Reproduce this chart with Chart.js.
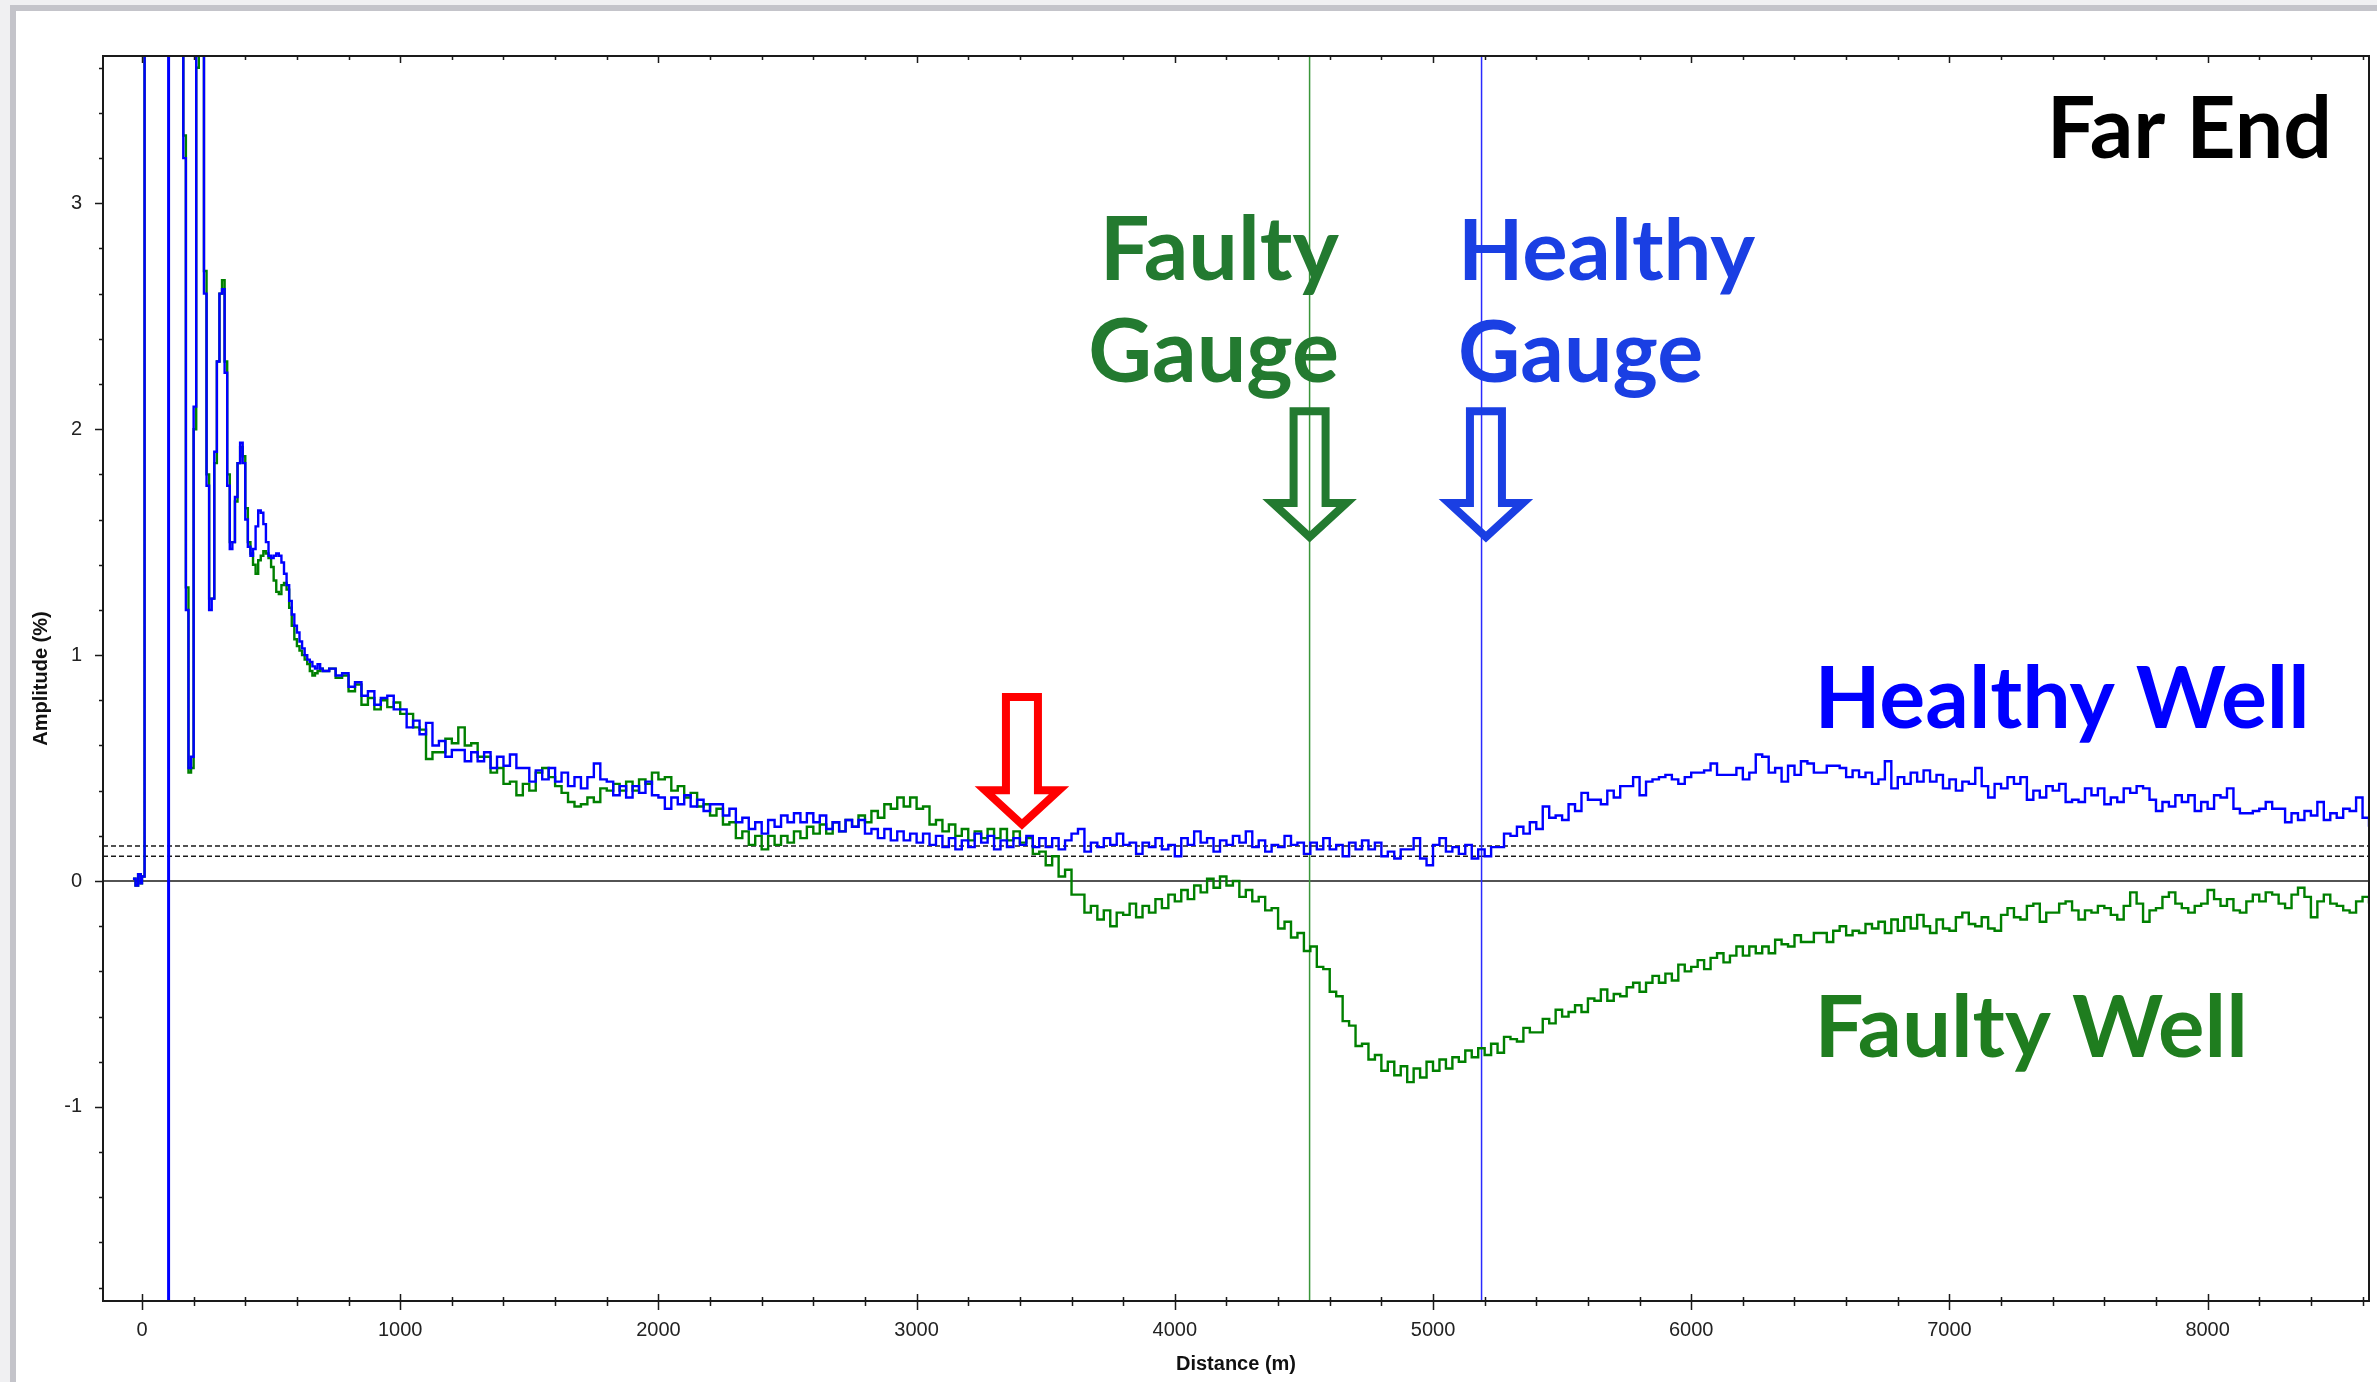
<!DOCTYPE html>
<html>
<head>
<meta charset="utf-8">
<script src="https://cdn.jsdelivr.net/npm/chart.js@4.4.1/dist/chart.umd.min.js"></script>
<style>
  html, body { margin: 0; padding: 0; background: #f0f0f2; overflow: hidden; }
  #panel { position: absolute; left: 10px; top: 5px; right: 0; bottom: 0; background: #fff;
           border-left: 6px solid #c4c4ca; border-top: 6px solid #c4c4ca; }
  #chart { position: absolute; left: 0; top: 0; }
</style>
</head>
<body>
<div id="panel"></div>
<canvas id="chart" width="2377" height="1382"></canvas>
<script>
// distance along the well (m)
const distance = [
  -35, -25, -15, -5, 0, 10, 20, 30, 40, 50, 60, 70, 80, 90, 100, 110, 120, 130, 140, 150,
  160, 170, 180, 190, 200, 210, 220, 230, 240, 250, 260, 270, 280, 290, 300, 310, 320, 330, 340, 350,
  360, 370, 380, 390, 400, 410, 420, 430, 440, 450, 460, 470, 480, 490, 500, 510, 520, 530, 540, 550,
  560, 570, 580, 590, 600, 610, 620, 630, 640, 650, 660, 670, 680, 690, 700,
  725, 750, 775, 800, 825, 850, 875, 900, 925, 950, 975, 1000, 1025, 1050, 1075, 1100, 1125, 1150, 1175, 1200,
  1225, 1250, 1275, 1300, 1325, 1350, 1375, 1400, 1425, 1450, 1475, 1500, 1525, 1550, 1575, 1600, 1625, 1650, 1675, 1700,
  1725, 1750, 1775, 1800, 1825, 1850, 1875, 1900, 1925, 1950, 1975, 2000, 2025, 2050, 2075, 2100, 2125, 2150, 2175, 2200,
  2225, 2250, 2275, 2300, 2325, 2350, 2375, 2400, 2425, 2450, 2475, 2500, 2525, 2550, 2575, 2600, 2625, 2650, 2675, 2700,
  2725, 2750, 2775, 2800, 2825, 2850, 2875, 2900, 2925, 2950, 2975, 3000, 3025, 3050, 3075, 3100, 3125, 3150, 3175, 3200,
  3225, 3250, 3275, 3300, 3325, 3350, 3375, 3400, 3425, 3450, 3475, 3500, 3525, 3550, 3575, 3600, 3625, 3650, 3675, 3700,
  3725, 3750, 3775, 3800, 3825, 3850, 3875, 3900, 3925, 3950, 3975, 4000, 4025, 4050, 4075, 4100, 4125, 4150, 4175, 4200,
  4225, 4250, 4275, 4300, 4325, 4350, 4375, 4400, 4425, 4450, 4475, 4500, 4525, 4550, 4575, 4600, 4625, 4650, 4675, 4700,
  4725, 4750, 4775, 4800, 4825, 4850, 4875, 4900, 4925, 4950, 4975, 5000, 5025, 5050, 5075, 5100, 5125, 5150, 5175, 5200,
  5225, 5250, 5275, 5300, 5325, 5350, 5375, 5400, 5425, 5450, 5475, 5500, 5525, 5550, 5575, 5600, 5625, 5650, 5675, 5700,
  5725, 5750, 5775, 5800, 5825, 5850, 5875, 5900, 5925, 5950, 5975, 6000, 6025, 6050, 6075, 6100, 6125, 6150, 6175, 6200,
  6225, 6250, 6275, 6300, 6325, 6350, 6375, 6400, 6425, 6450, 6475, 6500, 6525, 6550, 6575, 6600, 6625, 6650, 6675, 6700,
  6725, 6750, 6775, 6800, 6825, 6850, 6875, 6900, 6925, 6950, 6975, 7000, 7025, 7050, 7075, 7100, 7125, 7150, 7175, 7200,
  7225, 7250, 7275, 7300, 7325, 7350, 7375, 7400, 7425, 7450, 7475, 7500, 7525, 7550, 7575, 7600, 7625, 7650, 7675, 7700,
  7725, 7750, 7775, 7800, 7825, 7850, 7875, 7900, 7925, 7950, 7975, 8000, 8025, 8050, 8075, 8100, 8125, 8150, 8175, 8200,
  8225, 8250, 8275, 8300, 8325, 8350, 8375, 8400, 8425, 8450, 8475, 8500, 8525, 8550, 8575, 8600, 8625
];

// amplitude (%) of the healthy well trace (values above 3.65 are off the top of the plot)
const healthyWell = [
  .01, -.02, .03, -.01, .02, 6, 6, 6, 6, 6, 6, 6, 6, 6, 6, 6, 6, 6, 6, 6,
  3.2, 1.2, .5, .55, 2.1, 3.7, 6, 4.5, 2.6, 1.75, 1.2, 1.25, 1.9, 2.3, 2.6, 2.62, 2.25, 1.75, 1.47, 1.5,
  1.7, 1.85, 1.94, 1.85, 1.6, 1.48, 1.44, 1.47, 1.57, 1.64, 1.63, 1.58, 1.5, 1.44, 1.43, 1.44, 1.45, 1.44, 1.41, 1.36,
  1.31, 1.24, 1.18, 1.13, 1.1, 1.06, 1.03, 1, .98, .97, .95, .94, .96, .94, .93,
  .94, .91, .92, .86, .88, .82, .84, .78, .81, .82, .76, .76, .68, .71, .65, .70, .60, .62, .55, .58,
  .58, .53, .57, .53, .57, .50, .55, .51, .56, .50, .50, .44, .49, .45, .50, .44, .48, .42, .46, .41,
  .46, .52, .45, .44, .38, .42, .37, .42, .39, .44, .38, .37, .32, .37, .34, .38, .33, .36, .31, .34,
  .34, .29, .32, .26, .28, .23, .26, .21, .27, .24, .29, .26, .30, .26, .30, .26, .29, .23, .26, .22,
  .27, .24, .27, .21, .23, .19, .23, .18, .22, .18, .21, .17, .21, .16, .20, .15, .19, .14, .18, .15,
  .21, .17, .20, .14, .18, .15, .19, .16, .20, .15, .19, .15, .19, .14, .18, .21, .23, .13, .17, .15,
  .19, .16, .21, .16, .17, .12, .17, .15, .19, .14, .16, .11, .19, .16, .22, .17, .19, .13, .18, .16,
  .20, .17, .22, .15, .18, .13, .16, .15, .20, .16, .17, .12, .17, .14, .19, .14, .16, .11, .17, .14,
  .18, .14, .17, .11, .13, .10, .14, .14, .19, .10, .07, .16, .19, .13, .15, .12, .16, .10, .14, .11,
  .15, .15, .21, .20, .24, .21, .26, .23, .33, .28, .29, .27, .34, .31, .39, .36, .36, .34, .40, .37,
  .42, .42, .46, .38, .44, .45, .46, .47, .45, .43, .46, .48, .48, .49, .52, .47, .47, .47, .50, .45,
  .48, .56, .55, .48, .50, .44, .51, .47, .53, .52, .48, .48, .51, .51, .50, .46, .49, .46, .48, .43,
  .45, .53, .41, .46, .43, .48, .44, .49, .44, .47, .41, .45, .40, .44, .43, .50, .42, .37, .43, .41,
  .46, .43, .46, .36, .40, .37, .42, .40, .43, .35, .36, .35, .41, .38, .41, .34, .37, .35, .41, .39,
  .42, .41, .36, .31, .35, .33, .38, .35, .38, .31, .35, .32, .38, .37, .41, .32, .30, .30, .31, .32,
  .35, .32, .32, .26, .30, .27, .31, .29, .35, .27, .30, .28, .32, .31, .37, .28, .24
];

// amplitude (%) of the faulty well trace
const faultyWell = [
  .01, -.02, .03, -.01, .02, 6, 6, 6, 6, 6, 6, 6, 6, 6, 6, 6, 6, 6, 6, 6,
  3.3, 1.3, .48, .5, 2.0, 3.6, 6, 4.6, 2.7, 1.8, 1.25, 1.25, 1.85, 2.3, 2.6, 2.66, 2.3, 1.8, 1.5, 1.5,
  1.68, 1.85, 1.92, 1.88, 1.65, 1.5, 1.45, 1.4, 1.36, 1.42, 1.44, 1.46, 1.45, 1.43, 1.39, 1.33, 1.28, 1.27, 1.31, 1.32,
  1.29, 1.21, 1.13, 1.07, 1.04, 1.02, 1, .98, .96, .93, .91, .92, .93, .94, .93,
  .94, .90, .91, .84, .87, .78, .81, .76, .80, .77, .79, .74, .74, .68, .67, .54, .57, .57, .63, .61,
  .68, .60, .61, .55, .55, .48, .50, .43, .44, .38, .43, .40, .48, .50, .46, .42, .39, .35, .33, .34,
  .37, .35, .41, .40, .43, .40, .44, .40, .45, .43, .48, .45, .46, .40, .42, .37, .39, .33, .34, .29,
  .32, .25, .26, .19, .22, .16, .20, .14, .20, .16, .20, .17, .22, .19, .24, .21, .25, .21, .26, .22,
  .27, .24, .29, .26, .31, .28, .34, .32, .37, .33, .37, .32, .33, .25, .27, .22, .25, .20, .23, .18,
  .22, .19, .23, .19, .23, .18, .22, .17, .19, .12, .13, .07, .11, .02, .05, -.06, -.06, -.14, -.11, -.17,
  -.13, -.20, -.14, -.15, -.10, -.16, -.11, -.14, -.08, -.12, -.06, -.09, -.04, -.08, -.02, -.05, .01, -.03, .02, -.02,
  .00, -.07, -.04, -.09, -.07, -.13, -.12, -.21, -.18, -.25, -.23, -.31, -.29, -.38, -.39, -.49, -.51, -.62, -.64, -.73,
  -.72, -.79, -.77, -.84, -.80, -.86, -.82, -.89, -.83, -.87, -.80, -.84, -.79, -.83, -.78, -.80, -.75, -.78, -.74, -.77,
  -.72, -.76, -.69, -.70, -.71, -.65, -.67, -.67, -.61, -.63, -.57, -.60, -.58, -.55, -.58, -.52, -.53, -.48, -.53, -.50,
  -.51, -.47, -.45, -.49, -.45, -.42, -.45, -.41, -.44, -.37, -.40, -.38, -.35, -.39, -.34, -.32, -.36, -.33, -.29, -.33,
  -.29, -.32, -.29, -.32, -.26, -.28, -.29, -.24, -.27, -.27, -.23, -.23, -.27, -.22, -.20, -.24, -.22, -.23, -.19, -.21,
  -.18, -.23, -.17, -.22, -.16, -.21, -.15, -.20, -.23, -.17, -.21, -.22, -.16, -.14, -.19, -.20, -.16, -.21, -.22, -.15,
  -.12, -.16, -.17, -.11, -.10, -.18, -.14, -.14, -.10, -.09, -.13, -.17, -.13, -.14, -.11, -.12, -.15, -.17, -.11, -.05,
  -.10, -.18, -.13, -.12, -.07, -.05, -.10, -.12, -.14, -.11, -.10, -.04, -.08, -.11, -.08, -.13, -.14, -.09, -.06, -.09,
  -.05, -.06, -.10, -.12, -.06, -.03, -.07, -.16, -.09, -.06, -.10, -.11, -.13, -.14, -.09, -.07, -.10
];

// axis tick labels and minor tick spacing
const xTickLabels = [0, 1000, 2000, 3000, 4000, 5000, 6000, 7000, 8000];
const yTickLabels = [-1, 0, 1, 2, 3];
const xMinorStep = 200;
const yMinorStep = 0.2;

// marker positions (m) and threshold levels (%)
const launchMarker = 103;
const faultyGaugeAt = 4522;
const healthyGaugeAt = 5188;
const thresholds = [0.155, 0.11];

// axis limits
const xMin = -151, xMax = 8625;
const yMin = -1.859, yMax = 3.652;

// annotations, placed in data units
const labels = [
  { text: 'Far End', x: 8482, y: 3.2, size: 86, color: '#000000', align: 'right' },
  { text: 'Faulty', x: 4636, y: 2.66, size: 88, color: '#237a30', align: 'right' },
  { text: 'Gauge', x: 4636, y: 2.21, size: 88, color: '#237a30', align: 'right' },
  { text: 'Healthy', x: 5097, y: 2.66, size: 85, color: '#1a3fe3', align: 'left' },
  { text: 'Gauge', x: 5097, y: 2.21, size: 86, color: '#1a3fe3', align: 'left' },
  { text: 'Healthy Well', x: 6477, y: 0.677, size: 86, color: '#0000ff', align: 'left' },
  { text: 'Faulty Well', x: 6477, y: -0.78, size: 87, color: '#1f7d1f', align: 'left' }
];
const arrows = [
  { x: 4522, top: 2.08, tip: 1.523, color: '#237a30' },
  { x: 5205, top: 2.08, tip: 1.523, color: '#1a3fe3' },
  { x: 3408, top: 0.815, tip: 0.251, color: '#ff0000' }
];

const healthyPoints = distance.map((d, i) => ({ x: d, y: healthyWell[i] }));
const faultyPoints = distance.map((d, i) => ({ x: d, y: faultyWell[i] }));

function drawArrow(ctx, cx, yTop, yTip, color) {
  const sw = 16, hw = 37, head = 34;
  ctx.beginPath();
  ctx.moveTo(cx - sw, yTop);
  ctx.lineTo(cx + sw, yTop);
  ctx.lineTo(cx + sw, yTip - head);
  ctx.lineTo(cx + hw, yTip - head);
  ctx.lineTo(cx, yTip);
  ctx.lineTo(cx - hw, yTip - head);
  ctx.lineTo(cx - sw, yTip - head);
  ctx.closePath();
  ctx.lineWidth = 8;
  ctx.lineJoin = 'miter';
  ctx.strokeStyle = color;
  ctx.stroke();
}

const overlay = {
  id: 'overlay',
  beforeDatasetsDraw(chart) {
    const { ctx, chartArea: a, scales: { x, y } } = chart;
    ctx.save();
    // zero line
    ctx.strokeStyle = '#1a1a1a';
    ctx.lineWidth = 1.6;
    ctx.beginPath();
    ctx.moveTo(a.left, y.getPixelForValue(0));
    ctx.lineTo(a.right, y.getPixelForValue(0));
    ctx.stroke();
    // dashed threshold lines
    ctx.setLineDash([5, 3]);
    ctx.lineWidth = 1.4;
    thresholds.forEach(t => {
      ctx.beginPath();
      ctx.moveTo(a.left, y.getPixelForValue(t));
      ctx.lineTo(a.right, y.getPixelForValue(t));
      ctx.stroke();
    });
    ctx.setLineDash([]);
    // vertical markers
    const vline = (v, color, w) => {
      const px = x.getPixelForValue(v);
      ctx.strokeStyle = color;
      ctx.lineWidth = w;
      ctx.beginPath();
      ctx.moveTo(px, a.top);
      ctx.lineTo(px, a.bottom);
      ctx.stroke();
    };
    vline(launchMarker, '#0000ff', 3);
    vline(faultyGaugeAt, '#3a963a', 1.5);
    vline(healthyGaugeAt, '#2a2aff', 1.5);
    ctx.restore();
  },
  afterDatasetsDraw(chart) {
    const { ctx, scales: { x, y } } = chart;
    ctx.save();
    arrows.forEach(ar => {
      drawArrow(ctx, x.getPixelForValue(ar.x), y.getPixelForValue(ar.top), y.getPixelForValue(ar.tip), ar.color);
    });
    ctx.textBaseline = 'alphabetic';
    labels.forEach(l => {
      ctx.font = 'bold ' + l.size + 'px Lato, "Open Sans", sans-serif';
      ctx.fillStyle = l.color;
      ctx.textAlign = l.align;
      ctx.fillText(l.text, x.getPixelForValue(l.x), y.getPixelForValue(l.y));
    });
    ctx.restore();
  },
  afterDraw(chart) {
    const { ctx, chartArea: a, scales: { x, y } } = chart;
    ctx.save();
    ctx.strokeStyle = '#1a1a1a';
    ctx.lineWidth = 2;
    ctx.strokeRect(a.left, a.top, a.right - a.left, a.bottom - a.top);
    ctx.lineWidth = 1.5;
    ctx.beginPath();
    x.ticks.forEach(t => {
      const px = Math.round(x.getPixelForValue(t.value)) + 0.5;
      const major = xTickLabels.includes(t.value);
      ctx.moveTo(px, a.bottom - (major ? 7 : 4));
      ctx.lineTo(px, a.bottom + (major ? 9 : 5));
      ctx.moveTo(px, a.top);
      ctx.lineTo(px, a.top + (major ? 7 : 4));
    });
    y.ticks.forEach(t => {
      const py = Math.round(y.getPixelForValue(t.value)) + 0.5;
      const major = yTickLabels.includes(t.value);
      ctx.moveTo(a.left - (major ? 8 : 4), py);
      ctx.lineTo(a.left, py);
    });
    ctx.stroke();
    ctx.restore();
  }
};

Chart.defaults.font.family = '"Liberation Sans", Arial, sans-serif';

new Chart(document.getElementById('chart'), {
  type: 'line',
  data: {
    datasets: [
      { label: 'Healthy Well', data: healthyPoints, borderColor: '#0000ff', borderWidth: 2.4, pointRadius: 0, stepped: true, order: 1 },
      { label: 'Faulty Well', data: faultyPoints, borderColor: '#008000', borderWidth: 2.4, pointRadius: 0, stepped: true, order: 2 }
    ]
  },
  options: {
    responsive: false,
    animation: false,
    events: [],
    layout: { padding: { left: 0, top: 56, right: 8, bottom: 0 } },
    plugins: { legend: { display: false }, tooltip: { enabled: false } },
    scales: {
      x: {
        type: 'linear',
        min: xMin,
        max: xMax,
        grid: { display: false, drawTicks: false },
        border: { display: false },
        afterBuildTicks: s => {
          const t = [];
          for (let v = 0; v <= xMax; v += xMinorStep) t.push({ value: v });
          s.ticks = t;
        },
        ticks: {
          autoSkip: false,
          maxRotation: 0,
          padding: 17,
          color: '#222',
          font: { size: 20 },
          callback: v => (xTickLabels.includes(v) ? String(v) : '')
        },
        title: { display: true, text: 'Distance (m)', color: '#111', font: { size: 20, weight: 'bold' }, padding: { top: 6, bottom: 6 } },
        afterFit: s => { s.height = 81; s.paddingLeft = 0; s.paddingRight = 0; }
      },
      y: {
        type: 'linear',
        min: yMin,
        max: yMax,
        grid: { display: false, drawTicks: false },
        border: { display: false },
        afterBuildTicks: s => {
          const t = [];
          for (let k = Math.ceil(yMin / yMinorStep); k * yMinorStep <= yMax; k++) {
            t.push({ value: Math.round(k * yMinorStep * 10) / 10 });
          }
          s.ticks = t;
        },
        ticks: {
          autoSkip: false,
          padding: 21,
          color: '#222',
          font: { size: 20 },
          callback: v => (yTickLabels.includes(v) ? String(v) : '')
        },
        title: { display: true, text: 'Amplitude (%)', color: '#111', font: { size: 20, weight: 'bold' }, padding: { top: 29, bottom: 0 } },
        afterFit: s => { s.width = 103; s.paddingTop = 0; s.paddingBottom = 0; }
      }
    }
  },
  plugins: [overlay]
});
</script>
</body>
</html>
